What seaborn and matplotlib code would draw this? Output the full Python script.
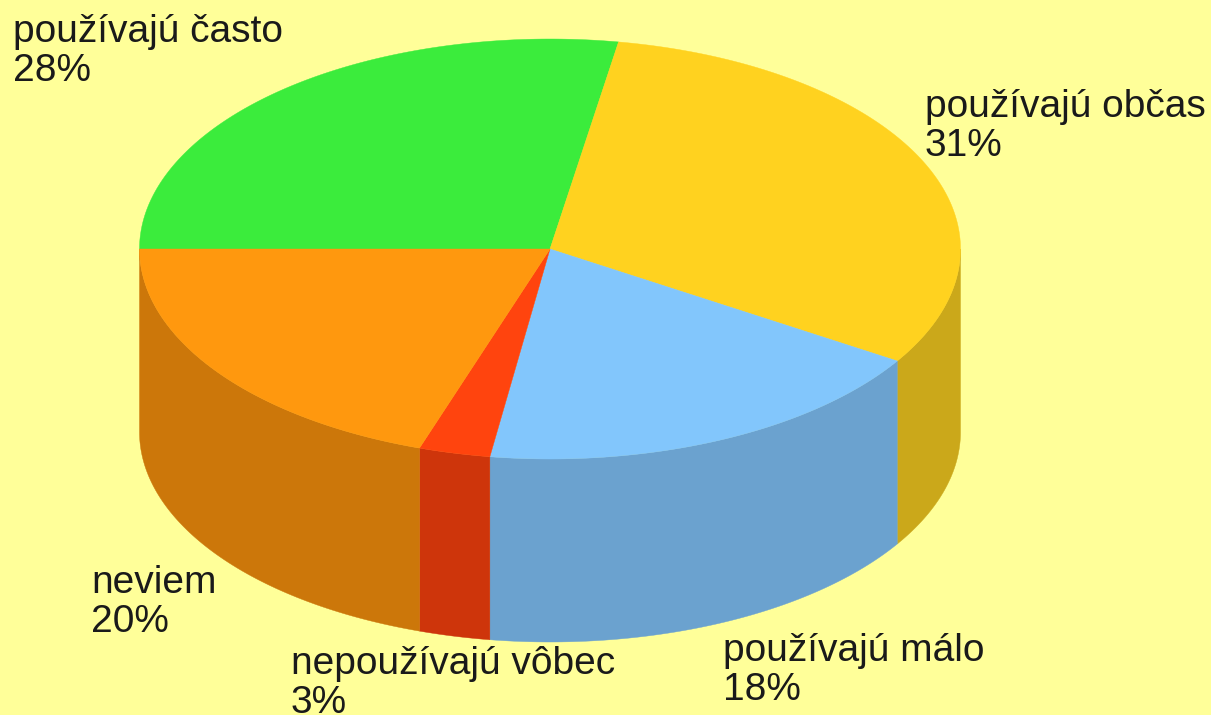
"""
3D style pie chart - usage shares
"""

import numpy as np
import pandas as pd
import matplotlib.pyplot as plt
from matplotlib.patches import Polygon
import seaborn as sns

# Chart data, clockwise from the left edge of the pie
labels = ['používajú často', 'používajú občas', 'používajú málo', 'nepoužívajú vôbec', 'neviem']
shares = [27.67, 31.28, 18.39, 2.81, 19.85]
top_colors = ['#3BEC3C', '#FFD21F', '#82C6FC', '#FF440E', '#FF980E']
side_colors = ['#2FBC30', '#CBA81A', '#6BA2CF', '#CE350B', '#CC770A']

sns.set_style("white")
plt.rcParams['font.family'] = ['Liberation Sans', 'DejaVu Sans']

BG = '#FFFF99'
CX, CY = 550, 249
RX, RY = 410.5, 210
DEPTH = 183
START = 180.0

# Label anchor (left edge, baseline of the last line), in pixels
label_pos = [(13, 81), (925, 156), (723, 700), (291, 713), (91, 632)]

df = pd.DataFrame({'label': labels, 'share': shares})
df['sweep'] = df['share'] / df['share'].sum() * 360
df['end'] = START - df['sweep'].cumsum()
df['start'] = df['end'] + df['sweep']

fig, ax = plt.subplots(figsize=(12.11, 7.15), dpi=100)
fig.subplots_adjust(left=0, right=1, bottom=0, top=1)
fig.patch.set_facecolor(BG)
ax.set_facecolor(BG)
ax.set_xlim(0, 1211)
ax.set_ylim(715, 0)
ax.axis('off')


def rim(a, b, dy=0):
    t = np.radians(np.linspace(a, b, 120))
    return np.column_stack([CX + RX * np.cos(t), CY + dy - RY * np.sin(t)])


# Sides first, only the front half of the rim can be seen
for i, row in df.iterrows():
    a = min(row['start'], 0)
    b = max(row['end'], -180)
    if a <= b:
        continue
    pts = np.vstack([rim(a, b), rim(b, a, DEPTH)])
    ax.add_patch(Polygon(pts, closed=True, fc=side_colors[i], ec=side_colors[i], lw=0.3, zorder=1))

# Top face
for i, row in df.iterrows():
    pts = np.vstack([[CX, CY], rim(row['start'], row['end'])])
    ax.add_patch(Polygon(pts, closed=True, fc=top_colors[i], ec=top_colors[i], lw=0.3, zorder=2))

for i, row in df.iterrows():
    x, y = label_pos[i]
    ax.text(x, y, f"{row['label']}\n{row['share']:.0f}%", fontsize=28, color='#1A1A1A',
            ha='left', va='baseline', linespacing=1.1, zorder=3)

plt.savefig('out.png', dpi=100, facecolor=BG)
